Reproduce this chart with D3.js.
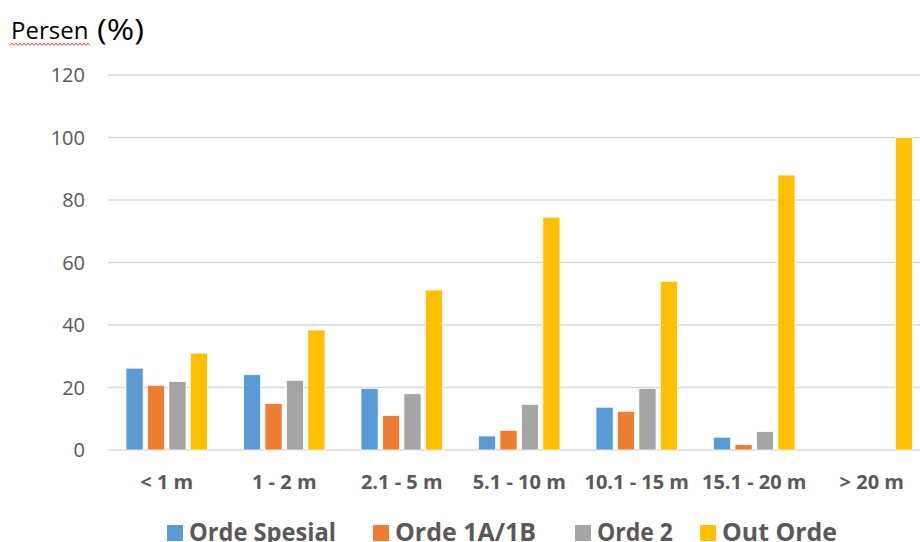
<!DOCTYPE html>
<html>
<head>
<meta charset="utf-8">
<script src="https://cdn.jsdelivr.net/npm/d3@7"></script>
<style>
  body { margin: 0; background: #fff; }
  svg { display: block; font-family: "Open Sans", "Noto Sans", sans-serif; }
</style>
</head>
<body>
<svg id="chart" width="920" height="542"></svg>
<script>
// Chart data
const categories = ['< 1 m', '1 - 2 m', '2.1 - 5 m', '5.1 - 10 m', '10.1 - 15 m', '15.1 - 20 m', '> 20 m'];
const seriesNames = ['Orde Spesial', 'Orde 1A/1B', 'Orde 2', 'Out Orde'];
const ordeSpesial = [26.2, 24.1, 19.7, 4.5, 13.7, 4.1, 0];
const orde1A1B = [20.7, 14.9, 11.0, 6.3, 12.4, 1.8, 0];
const orde2 = [21.9, 22.3, 18.0, 14.6, 19.7, 5.9, 0];
const outOrde = [31.0, 38.4, 51.2, 74.5, 54.0, 88.0, 100];
const yTicks = [0, 20, 40, 60, 80, 100, 120];

const seriesValues = [ordeSpesial, orde1A1B, orde2, outOrde];
const colors = ['#5B9BD5', '#ED7D31', '#A5A5A5', '#FFC000'];

const svg = d3.select('#chart');
const plot = { left: 108, top: 75, bottom: 450, step: 117.5 };

// Scales
const x0 = d3.scaleBand()
    .domain(categories)
    .range([plot.left, plot.left + plot.step * categories.length]);

const x1 = d3.scaleBand()
    .domain(seriesNames)
    .range([18, x0.bandwidth() - 18])
    .paddingInner(0.2);

const y = d3.scaleLinear()
    .domain([0, 120])
    .range([plot.bottom, plot.top]);

// Gridlines
svg.append('g')
    .selectAll('line')
    .data(yTicks)
    .enter()
    .append('line')
    .attr('x1', plot.left)
    .attr('x2', 920)
    .attr('y1', d => y(d))
    .attr('y2', d => y(d))
    .attr('stroke', '#d9d9d9')
    .attr('stroke-width', 1.3);

// Y tick labels
svg.append('g')
    .selectAll('text')
    .data(yTicks)
    .enter()
    .append('text')
    .attr('x', 85)
    .attr('y', d => y(d))
    .attr('dy', '0.36em')
    .attr('text-anchor', 'end')
    .attr('fill', '#595959')
    .style('font-size', '20px')
    .text(d => d);

// Bars
const groups = svg.append('g')
    .selectAll('g')
    .data(categories)
    .enter()
    .append('g')
    .attr('transform', d => `translate(${x0(d)},0)`);

groups.selectAll('rect')
    .data((d, i) => seriesNames.map((s, j) => ({ series: s, value: seriesValues[j][i], color: colors[j] })))
    .enter()
    .append('rect')
    .attr('x', d => x1(d.series))
    .attr('y', d => y(d.value))
    .attr('width', x1.bandwidth())
    .attr('height', d => y(0) - y(d.value))
    .attr('fill', d => d.color)
    .attr('stroke', d => d.value > 0 ? '#fff' : 'none')
    .attr('stroke-width', 0.8);

// Category labels
svg.append('g')
    .selectAll('text')
    .data(categories)
    .enter()
    .append('text')
    .attr('x', d => x0(d) + x0.bandwidth() / 2)
    .attr('y', 481.5)
    .attr('dy', '0.36em')
    .attr('text-anchor', 'middle')
    .attr('fill', '#595959')
    .style('font-size', '20px')
    .style('font-weight', 'bold')
    .text(d => d);

// Legend
const legendX = [167, 373, 575, 700];
const legendW = [147, 141, 76, 115];
const legend = svg.append('g')
    .selectAll('g')
    .data(seriesNames)
    .enter()
    .append('g')
    .attr('transform', (d, i) => `translate(${legendX[i]},0)`);

legend.append('rect')
    .attr('x', 0)
    .attr('y', 525)
    .attr('width', 16)
    .attr('height', 16)
    .attr('fill', (d, i) => colors[i]);

legend.append('text')
    .attr('x', 22)
    .attr('y', 541)
    .attr('fill', '#595959')
    .attr('textLength', (d, i) => legendW[i])
    .attr('lengthAdjust', 'spacingAndGlyphs')
    .style('font-size', '25px')
    .style('font-weight', 'bold')
    .text(d => d);

// Axis title
svg.append('text')
    .attr('x', 11)
    .attr('y', 39)
    .attr('fill', '#000')
    .style('font-size', '24px')
    .text('Persen');
svg.append('text')
    .attr('x', 97)
    .attr('y', 40)
    .attr('fill', '#000')
    .attr('textLength', 47)
    .attr('lengthAdjust', 'spacingAndGlyphs')
    .style('font-size', '30px')
    .text('(%)');

// spell-check squiggle under "Persen"
const squiggle = d3.range(10, 92, 2).map((px, i) => [px, i % 2 ? 43 : 45.5]);
svg.append('path')
    .attr('d', d3.line()(squiggle))
    .attr('fill', 'none')
    .attr('stroke', '#e03030')
    .attr('stroke-width', 0.8);
</script>
</body>
</html>
